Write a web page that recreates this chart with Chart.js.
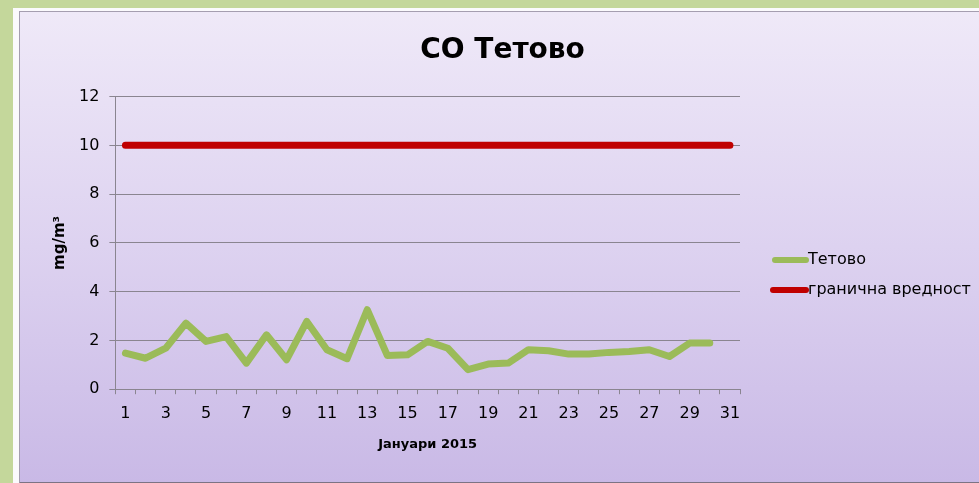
<!DOCTYPE html>
<html>
<head>
<meta charset="utf-8">
<script src="https://cdn.jsdelivr.net/npm/chart.js@4/dist/chart.umd.min.js"></script>
<style>
  html, body { margin: 0; padding: 0; }
  body { width: 979px; height: 483px; background: #c4d79b; position: relative; overflow: hidden; }
  #frame { position: absolute; left: 13px; top: 8px; right: 0; bottom: 0; background: #fbfafd; }
  #panel {
    position: absolute; left: 19px; top: 11px; width: 960px; height: 470px;
    border-top: 1px solid #a59eb0; border-left: 1px solid #a59eb0; border-bottom: 2px solid #7c7384;
    background: linear-gradient(to bottom, #efe9f8 0%, #ddd2f0 50%, #c9b9e6 100%);
  }
  #chart { position: absolute; left: 0; top: 0; }
</style>
</head>
<body>
<div id="frame"></div>
<div id="panel"><canvas id="chart" width="960" height="470"></canvas></div>
<script>
const days = Array.from({ length: 31 }, (_, i) => String(i + 1))
const tetovo = [1.48, 1.27, 1.68, 2.71, 1.96, 2.16, 1.07, 2.23, 1.21, 2.78,
  1.62, 1.25, 3.26, 1.38, 1.41, 1.96, 1.68, 0.80, 1.03, 1.07,
  1.62, 1.58, 1.44, 1.44, 1.51, 1.55, 1.62, 1.34, 1.89, 1.89]
const limit = days.map(() => 10)
const seriesNames = ["Тетово", "гранична вредност"]

const FONT = "'Comic Sans MS', 'DejaVu Sans', sans-serif"
const GRID = "#8a8590"

// legend drawn by hand so it sits where the original one does
const sideLegend = {
  id: "sideLegend",
  afterDraw(chart) {
    const ctx = chart.ctx
    const items = [
      { x: 752, y: 248 },
      { x: 750, y: 278 },
    ]
    chart.data.datasets.forEach((ds, i) => {
      const p = items[i]
      ctx.save()
      ctx.strokeStyle = ds.borderColor
      ctx.lineWidth = 6
      ctx.lineCap = "round"
      ctx.beginPath()
      ctx.moveTo(p.x + 3, p.y)
      ctx.lineTo(786, p.y)
      ctx.stroke()
      ctx.fillStyle = "#000"
      ctx.font = "16px " + FONT
      ctx.textBaseline = "middle"
      ctx.fillText(ds.label, 788, p.y)
      ctx.restore()
    })
  },
}

new Chart(document.getElementById("chart"), {
  type: "line",
  data: {
    labels: days,
    datasets: [
      {
        label: seriesNames[0],
        data: tetovo,
        borderColor: "#9bbb59",
        borderWidth: 7,
        borderCapStyle: "round",
        borderJoinStyle: "round",
        pointRadius: 0,
        tension: 0,
      },
      {
        label: seriesNames[1],
        data: limit,
        borderColor: "#c00000",
        borderWidth: 7,
        borderCapStyle: "round",
        borderJoinStyle: "round",
        pointRadius: 0,
        tension: 0,
      },
    ],
  },
  options: {
    responsive: false,
    animation: false,
    layout: { padding: { left: 31, right: 26, top: 0, bottom: 30 } },
    plugins: {
      legend: { display: false },
      tooltip: { enabled: false },
      title: {
        display: true,
        text: "CO Тетово",
        color: "#000",
        font: { family: FONT, size: 28, weight: "bold" },
        padding: { top: 22, bottom: 29 },
      },
    },
    scales: {
      x: {
        offset: true,
        grid: { offset: true, drawOnChartArea: false, drawTicks: true, tickLength: 5, color: GRID },
        border: { color: GRID },
        ticks: {
          autoSkip: false,
          maxRotation: 0,
          padding: 10,
          color: "#000",
          font: { family: FONT, size: 16 },
          callback: (v, i) => (i % 2 === 0 ? days[i] : ""),
        },
        title: {
          display: true,
          text: "Јануари 2015",
          color: "#000",
          font: { family: FONT, size: 13, weight: "bold" },
          padding: { top: 3, bottom: 0 },
        },
      },
      y: {
        min: 0,
        max: 12,
        grid: { color: GRID, tickLength: 6 },
        border: { color: GRID },
        ticks: {
          stepSize: 2,
          padding: 10,
          color: "#000",
          font: { family: FONT, size: 16 },
        },
        title: {
          display: true,
          text: "mg/m³",
          color: "#000",
          font: { family: FONT, size: 15, weight: "bold" },
          padding: { top: 0, bottom: 0 },
        },
      },
      // empty box on the right that keeps room for the legend
      side: {
        type: "linear",
        position: "right",
        display: true,
        grid: { display: false, drawTicks: false },
        border: { display: false },
        ticks: { display: false },
        afterFit: (scale) => { scale.width = 214 },
      },
    },
  },
  plugins: [sideLegend],
})
</script>
</body>
</html>
